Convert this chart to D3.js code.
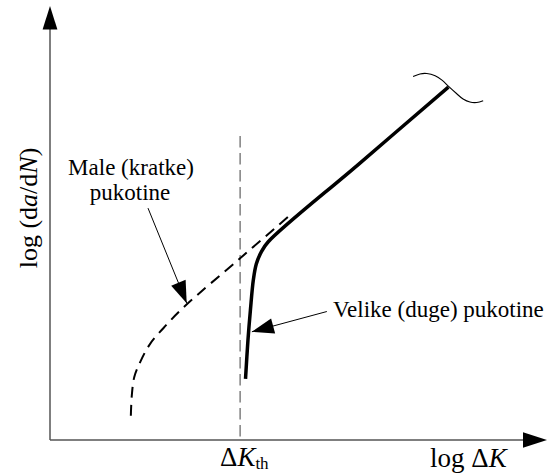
<!DOCTYPE html>
<html><head><meta charset="utf-8">
<script src="https://cdn.jsdelivr.net/npm/d3@7"></script>
<style>
html,body{margin:0;padding:0;background:#fff;}
svg{display:block;}
svg text, svg tspan{font-family:'Liberation Serif','Times New Roman',serif;}
</style></head>
<body>
<script>
// ---- data (abstract log units) ----
const longCrackX = [3.99, 4.04, 4.09, 4.15, 4.21, 4.31, 4.45, 6.29, 8.13];
const longCrackY = [1.39, 2.27, 2.95, 3.64, 4.00, 4.27, 4.50, 6.26, 8.02];
const shortCrackX = [1.65, 1.67, 1.72, 1.84, 2.04, 2.37, 2.76, 3.88, 4.90];
const shortCrackY = [0.55, 1.02, 1.43, 1.77, 2.18, 2.61, 3.05, 4.13, 5.11];
const waveX = [7.41, 7.55, 7.69, 7.86, 8.00, 8.14, 8.29, 8.43, 8.57, 8.71, 8.84];
const waveY = [8.26, 8.32, 8.33, 8.28, 8.18, 8.03, 7.88, 7.75, 7.68, 7.67, 7.71];
const thresholdX = 3.88;
const thresholdTop = 6.91;
const annotations = [
  {from:[2.00, 5.27], to:[2.79, 3.11]},
  {from:[5.65, 2.92], to:[4.12, 2.46]}
];
const labelShort = ["Male (kratke)", "pukotine"];
const labelLong = "Velike (duge) pukotine";

const W = 548, H = 474;
const FONT = "Liberation Serif, Times New Roman, serif";
const x = d3.scaleLinear().domain([0, 10]).range([50, 540]);
const y = d3.scaleLinear().domain([0, 10]).range([440, 0]);

const svg = d3.select("body").append("svg").attr("width", W).attr("height", H)
  .attr("font-family", FONT);

function arrowHead(tip, dir, len, hw) {
  const [dx, dy] = dir; const n = Math.hypot(dx, dy);
  const ux = dx / n, uy = dy / n;
  const bx = tip[0] - ux * len, by = tip[1] - uy * len;
  return `M${tip[0]},${tip[1]}L${bx - uy * hw},${by + ux * hw}L${bx + uy * hw},${by - ux * hw}Z`;
}

// axes
svg.append("line").attr("x1", x(0)).attr("y1", y(0)).attr("x2", x(0)).attr("y2", 26)
  .attr("stroke", "#555").attr("stroke-width", 1.5);
svg.append("line").attr("x1", x(0)).attr("y1", y(0)).attr("x2", 526).attr("y2", y(0))
  .attr("stroke", "#555").attr("stroke-width", 1.5);
svg.append("path").attr("d", arrowHead([x(0), 6], [0, -1], 23.5, 7.4)).attr("fill", "#000");
svg.append("path").attr("d", arrowHead([547, y(0)], [1, 0], 24, 7.8)).attr("fill", "#000");

// threshold
svg.append("line").attr("x1", x(thresholdX)).attr("x2", x(thresholdX))
  .attr("y1", y(thresholdTop)).attr("y2", y(0))
  .attr("stroke", "#777").attr("stroke-width", 1.4).attr("stroke-dasharray", "11.5,5.5");

const line = d3.line().x(d => x(d[0])).y(d => y(d[1])).curve(d3.curveCatmullRom.alpha(0.5));

// short cracks (dashed)
svg.append("path").datum(shortCrackX.map((v, i) => [v, shortCrackY[i]]))
  .attr("d", line).attr("fill", "none").attr("stroke", "#000")
  .attr("stroke-width", 2).attr("stroke-dasharray", "11,7");

// long cracks (solid)
svg.append("path").datum(longCrackX.map((v, i) => [v, longCrackY[i]]))
  .attr("d", line).attr("fill", "none").attr("stroke", "#000")
  .attr("stroke-width", 3.5);

// wave
svg.append("path").datum(waveX.map((v, i) => [v, waveY[i]]))
  .attr("d", line).attr("fill", "none").attr("stroke", "#000").attr("stroke-width", 1.1);

// annotation arrows
annotations.forEach(a => {
  const p0 = [x(a.from[0]), y(a.from[1])], p1 = [x(a.to[0]), y(a.to[1])];
  svg.append("line").attr("x1", p0[0]).attr("y1", p0[1]).attr("x2", p1[0]).attr("y2", p1[1])
    .attr("stroke", "#000").attr("stroke-width", 1);
  svg.append("path").attr("d", arrowHead(p1, [p1[0] - p0[0], p1[1] - p0[1]], 22, 7.8)).attr("fill", "#000");
});

// texts
function txt(sel) { return sel.append("text").attr("font-family", FONT).attr("fill", "#000"); }
const m1 = txt(svg).attr("x", 131).attr("y", 175).attr("text-anchor", "middle").attr("font-size", 23);
m1.append("tspan").attr("font-family", FONT).text(labelShort[0]);
const m2 = txt(svg).attr("x", 130).attr("y", 200).attr("text-anchor", "middle").attr("font-size", 23);
m2.append("tspan").attr("font-family", FONT).text(labelShort[1]);
const v1 = txt(svg).attr("x", 333).attr("y", 317).attr("font-size", 23);
v1.append("tspan").attr("font-family", FONT).text(labelLong);

const yl = txt(svg).attr("transform", "translate(37,208) rotate(-90)")
  .attr("text-anchor", "middle").attr("font-size", 26);
yl.append("tspan").text("log (d");
yl.append("tspan").attr("font-style", "italic").text("a");
yl.append("tspan").text("/d");
yl.append("tspan").attr("font-style", "italic").text("N");
yl.append("tspan").text(")");

const kt = txt(svg).attr("x", 220).attr("y", 466).attr("font-size", 27);
kt.append("tspan").text("Δ");
kt.append("tspan").attr("font-style", "italic").text("K");
kt.append("tspan").attr("font-size", 17).attr("dy", 3).text("th");

const xl = txt(svg).attr("x", 430).attr("y", 467).attr("font-size", 27);
xl.append("tspan").text("log Δ");
xl.append("tspan").attr("font-style", "italic").text("K");
</script>
</body></html>
